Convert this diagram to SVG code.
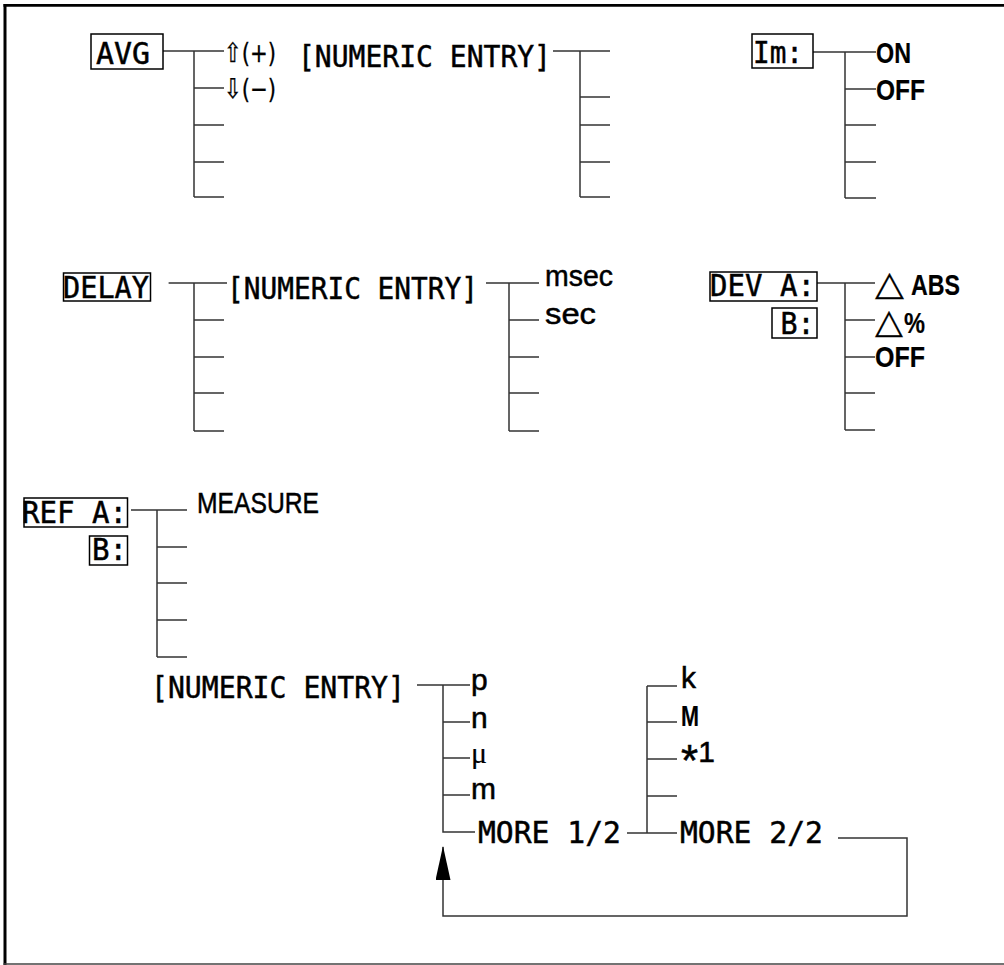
<svg xmlns="http://www.w3.org/2000/svg" width="1004" height="965" viewBox="0 0 1004 965">
<style>
.box{fill:none;stroke:#000;stroke-width:1.5}
.ln{fill:none;stroke:#333;stroke-width:1.5}
text{fill:#000;stroke:#000;stroke-width:0.5}
.mono{font-family:"DejaVu Sans Mono","Liberation Mono",monospace;font-size:31px}
.sans{font-family:"Liberation Sans",Arial,sans-serif;font-size:30px}
.bold{font-weight:bold;stroke-width:0.2}
.serif{font-family:"Liberation Serif","Times New Roman",serif;font-size:30px;stroke-width:0.2}
.sym{font-family:"DejaVu Sans",sans-serif;font-size:34px;stroke-width:0.2}
.pm{font-family:"DejaVu Sans",sans-serif;font-size:27px;stroke-width:0.3}
</style>
<defs>
<marker id="ah" markerUnits="userSpaceOnUse" markerWidth="34" markerHeight="15" refX="33" refY="7.5" orient="auto"><path d="M0,0 L34,7.5 L0,15 Z" fill="#000"/></marker>
</defs>
<g id="frame">
<line x1="3.5" y1="5.3" x2="1004" y2="5.3" stroke="#000" stroke-width="2.7"/>
<line x1="5" y1="4" x2="5" y2="965" stroke="#000" stroke-width="3"/>
<line x1="3.5" y1="964" x2="1004" y2="964" stroke="#444" stroke-width="1.5"/>
</g>
<g id="connectors">
<path class="ln" d="M163,51 H224 M194,51 V197 M194,88 H224 M194,125 H224 M194,162 H224 M194,197 H224"/>
<path class="ln" d="M553,51 H610 M580,51 V197 M580,97 H610 M580,125 H610 M580,162 H610 M580,197 H610"/>
<path class="ln" d="M813,52 H876 M845,52 V198 M845,89 H876 M845,125 H876 M845,162 H876 M845,198 H876"/>
<path class="ln" d="M168.6,283 H227 M194,283 V431 M194,320 H224 M194,357 H224 M194,393 H224 M194,431 H224"/>
<path class="ln" d="M486,283 H539 M509,283 V431 M509,320 H539 M509,357 H539 M509,393 H539 M509,431 H539"/>
<path class="ln" d="M817,283 H875 M845,283 V430 M845,320 H875 M845,357 H875 M845,393 H875 M845,430 H875"/>
<path class="ln" d="M131,510 H187 M157,510 V657 M157,547 H187 M157,583 H187 M157,620 H187 M157,657 H187"/>
<path class="ln" d="M417,685 H470 M443,685 V832 H475 M443,722 H470 M443,758 H470 M443,795 H470"/>
<path class="ln" d="M627,833 H677 M647,686 V833 M647,686 H677 M647,722 H677 M647,759 H677 M647,796 H677"/>
<path class="ln" d="M838,838 H907 V916 H443 V847" marker-end="url(#ah)"/>
</g>
<g id="node-avg"><rect class="box" x="91" y="34" width="72" height="35"/><text class="mono" x="96" y="64" textLength="54" lengthAdjust="spacingAndGlyphs">AVG</text></g>
<g id="node-avg-up"><text class="pm" x="224" y="62" textLength="52" lengthAdjust="spacingAndGlyphs">⇧(+)</text></g>
<g id="node-avg-down"><text class="pm" x="224" y="98" textLength="52" lengthAdjust="spacingAndGlyphs">⇩(−)</text></g>
<g id="node-avg-numeric"><text class="mono" x="298" y="67" textLength="253" lengthAdjust="spacingAndGlyphs">[NUMERIC ENTRY]</text></g>
<g id="node-im"><rect class="box" x="752" y="34" width="61" height="34"/><text class="mono" x="753" y="63" textLength="50" lengthAdjust="spacingAndGlyphs">Im:</text></g>
<g id="node-im-on"><text class="sans bold" x="876" y="63" font-size="31" textLength="35" lengthAdjust="spacingAndGlyphs">ON</text></g>
<g id="node-im-off"><text class="sans bold" x="876" y="100" font-size="31" textLength="49" lengthAdjust="spacingAndGlyphs">OFF</text></g>
<g id="node-delay"><rect class="box" x="63.5" y="273" width="87" height="28"/><text class="mono" x="63" y="298" textLength="86" lengthAdjust="spacingAndGlyphs">DELAY</text></g>
<g id="node-delay-numeric"><text class="mono" x="227" y="299" textLength="251" lengthAdjust="spacingAndGlyphs">[NUMERIC ENTRY]</text></g>
<g id="node-msec"><text class="sans" x="545" y="286" textLength="68" lengthAdjust="spacingAndGlyphs">msec</text></g>
<g id="node-sec"><text class="sans" x="545" y="324" textLength="51" lengthAdjust="spacingAndGlyphs">sec</text></g>
<g id="node-dev"><rect class="box" x="710" y="272" width="107" height="29"/><rect class="box" x="772" y="308" width="45" height="30"/><text class="mono" x="710" y="296" textLength="105" lengthAdjust="spacingAndGlyphs">DEV A:</text><text class="mono" x="780.5" y="334" textLength="34" lengthAdjust="spacingAndGlyphs">B:</text></g>
<g id="node-dev-abs"><text y="295"><tspan class="sym" x="875" textLength="29" lengthAdjust="spacingAndGlyphs">△</tspan><tspan class="sans bold" x="911" font-size="30" textLength="49" lengthAdjust="spacingAndGlyphs">ABS</tspan></text></g>
<g id="node-dev-pct"><text y="333"><tspan class="sym" x="875" textLength="28" lengthAdjust="spacingAndGlyphs">△</tspan><tspan class="sans bold" x="904" font-size="30" textLength="21" lengthAdjust="spacingAndGlyphs">%</tspan></text></g>
<g id="node-dev-off"><text class="sans bold" x="875" y="367" font-size="31" textLength="50" lengthAdjust="spacingAndGlyphs">OFF</text></g>
<g id="node-ref"><rect class="box" x="24" y="498" width="103.5" height="29"/><rect class="box" x="89.5" y="536" width="38" height="29"/><text class="mono" x="22" y="523" textLength="105" lengthAdjust="spacingAndGlyphs">REF A:</text><text class="mono" x="92" y="560" textLength="35" lengthAdjust="spacingAndGlyphs">B:</text></g>
<g id="node-measure"><text class="sans" x="197" y="513" font-size="32" textLength="122" lengthAdjust="spacingAndGlyphs">MEASURE</text></g>
<g id="node-numeric"><text class="mono" x="151" y="698" textLength="254" lengthAdjust="spacingAndGlyphs">[NUMERIC ENTRY]</text></g>
<g id="node-p"><text class="sans" x="471" y="690" font-size="29">p</text></g>
<g id="node-n"><text class="sans" x="471" y="728" font-size="29">n</text></g>
<g id="node-mu"><text class="serif" x="471" y="763">μ</text></g>
<g id="node-m"><text class="sans" x="471" y="799" font-size="29">m</text></g>
<g id="node-more1"><text class="mono" x="478" y="843" textLength="143" lengthAdjust="spacingAndGlyphs">MORE 1/2</text></g>
<g id="node-k"><text class="sans" x="681" y="688" font-size="31">k</text></g>
<g id="node-M"><text class="sans bold" x="681" y="726" font-size="27" textLength="18" lengthAdjust="spacingAndGlyphs">M</text></g>
<g id="node-star1"><text class="sans" x="681" y="762" font-size="28"><tspan font-size="44" dy="14">*</tspan><tspan dy="-14">1</tspan></text></g>
<g id="node-more2"><text class="mono" x="680" y="843" textLength="143" lengthAdjust="spacingAndGlyphs">MORE 2/2</text></g>
</svg>
